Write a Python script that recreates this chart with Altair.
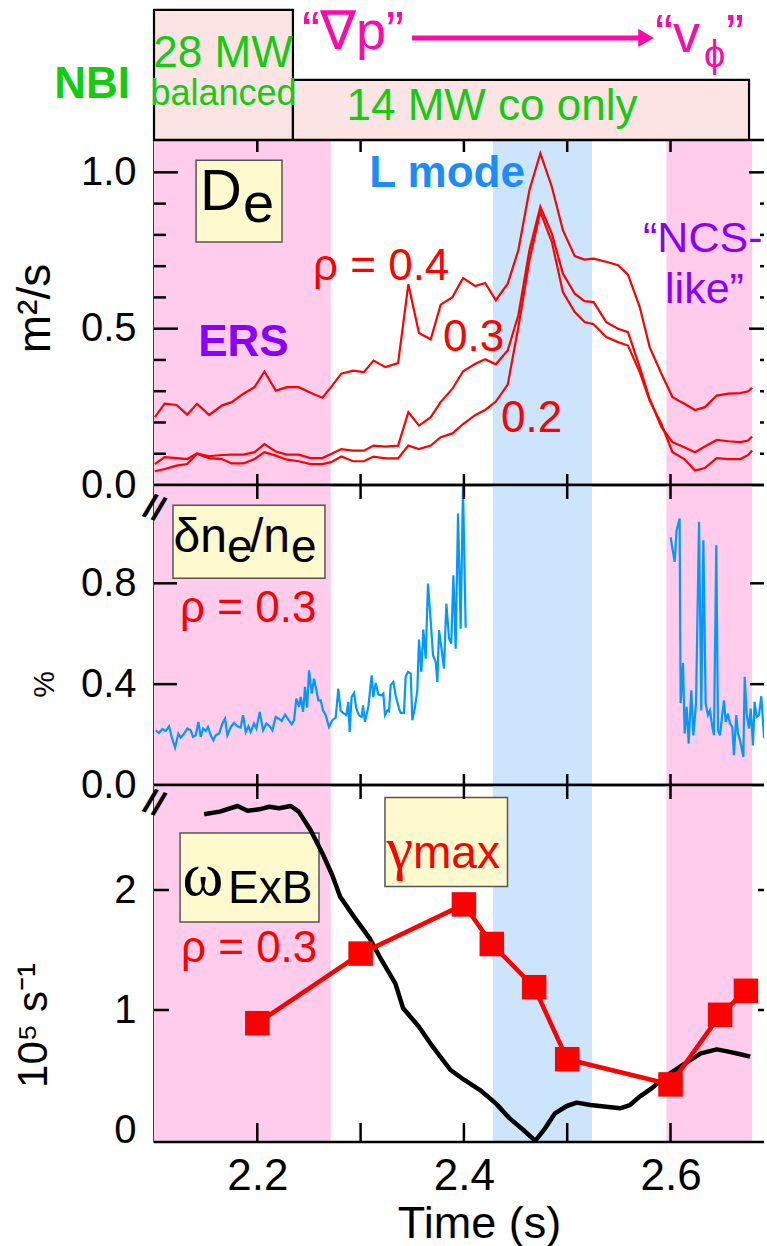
import altair as alt
import pandas as pd

FONT = "Liberation Sans"
W = 610
XMAX = 2.6905
H0, H1, H2, H3 = 140, 345, 300, 357

PINK = "#ffccec"
BLUEBAND = "#cce5fc"
NBIFILL = "#fde4e4"
GREEN = "#11cc11"
MAGENTA = "#ff0aa8"
RED = "#ff0000"
PURPLE = "#8800ff"
LBLUE = "#1a8cff"
LINEBLUE = "#0099ff"
YELLOW = "#fffacd"

# ---------------- data ----------------
band_start = [2.1, 2.428, 2.596]
band_end = [2.271, 2.524, 2.679]
band_kind = ["ERS / NCS", "L mode", "ERS / NCS"]

nbi_start = [2.1, 2.2345]
nbi_end = [2.2345, 2.676]
nbi_level = [0.93, 0.43]

t_de = [2.1008, 2.1103, 2.1218, 2.1321, 2.1416, 2.1534, 2.1656, 2.1752, 2.1866, 2.1973,
        2.2069, 2.2179, 2.2286, 2.2401, 2.2515, 2.2630, 2.2714, 2.2813, 2.2927, 2.3031,
        2.3126, 2.3240, 2.3363, 2.3462, 2.3565, 2.3679, 2.3775, 2.3889, 2.3992, 2.4111,
        2.4206, 2.4309, 2.4424, 2.4527, 2.4634, 2.4740, 2.4851, 2.4958, 2.5073, 2.5168,
        2.5256, 2.5378, 2.5492, 2.5588, 2.5702, 2.5798, 2.5912, 2.6019, 2.6134, 2.6237,
        2.6332, 2.6447, 2.6561, 2.6676, 2.6752, 2.6790]
de_04 = [0.217, 0.260, 0.256, 0.225, 0.260, 0.224, 0.254, 0.265, 0.292, 0.313,
         0.363, 0.302, 0.313, 0.313, 0.295, 0.279, 0.313, 0.356, 0.366, 0.361,
         0.398, 0.377, 0.390, 0.642, 0.486, 0.466, 0.577, 0.601, 0.662, 0.636,
         0.646, 0.591, 0.644, 0.751, 0.943, 1.061, 0.954, 0.815, 0.732, 0.721,
         0.724, 0.714, 0.703, 0.673, 0.569, 0.441, 0.356, 0.281, 0.260, 0.240,
         0.249, 0.286, 0.292, 0.294, 0.300, 0.311]
de_03 = [0.067, 0.089, 0.086, 0.083, 0.101, 0.092, 0.096, 0.097, 0.097, 0.105,
         0.131, 0.107, 0.097, 0.097, 0.086, 0.086, 0.099, 0.115, 0.110, 0.110,
         0.126, 0.123, 0.126, 0.233, 0.190, 0.217, 0.265, 0.308, 0.364, 0.388,
         0.402, 0.386, 0.430, 0.543, 0.751, 0.890, 0.804, 0.676, 0.612, 0.588,
         0.585, 0.521, 0.500, 0.489, 0.377, 0.275, 0.185, 0.137, 0.121, 0.105,
         0.123, 0.144, 0.140, 0.137, 0.142, 0.155]
de_02 = [0.044, 0.051, 0.062, 0.067, 0.099, 0.086, 0.083, 0.069, 0.069, 0.083,
         0.105, 0.094, 0.081, 0.076, 0.067, 0.067, 0.073, 0.091, 0.076, 0.076,
         0.091, 0.085, 0.085, 0.126, 0.115, 0.126, 0.153, 0.165, 0.195, 0.224,
         0.240, 0.267, 0.321, 0.505, 0.719, 0.874, 0.778, 0.617, 0.553, 0.521,
         0.514, 0.473, 0.457, 0.446, 0.361, 0.270, 0.195, 0.105, 0.083, 0.046,
         0.054, 0.086, 0.083, 0.083, 0.096, 0.110]

# delta n_e / n_e at rho = 0.3 (two recorded segments)
t_dn_a = [2.1017, 2.1049, 2.1081, 2.1113, 2.1146, 2.1171, 2.1204, 2.1236, 2.1259, 2.1291,
          2.1323, 2.1355, 2.1378, 2.1404, 2.1430, 2.1452, 2.1475, 2.1501, 2.1523, 2.1549,
          2.1575, 2.1597, 2.1630, 2.1662, 2.1688, 2.1710, 2.1743, 2.1775, 2.1807, 2.1839,
          2.1862, 2.1888, 2.1914, 2.1936, 2.1968, 2.1991, 2.2023, 2.2056, 2.2088, 2.2120,
          2.2146, 2.2178, 2.2210, 2.2236, 2.2269, 2.2301, 2.2333, 2.2356, 2.2378, 2.2404,
          2.2420, 2.2443, 2.2462, 2.2482, 2.2501, 2.2527, 2.2549, 2.2572, 2.2591, 2.2614,
          2.2636, 2.2662,
          2.2694, 2.2726, 2.2759, 2.2784, 2.2807, 2.2839, 2.2862, 2.2881, 2.2894, 2.2913,
          2.2936, 2.2959, 2.2984, 2.3010, 2.3023, 2.3042, 2.3075, 2.3107, 2.3123, 2.3146,
          2.3172, 2.3204, 2.3220, 2.3236, 2.3259, 2.3275, 2.3291, 2.3317, 2.3339, 2.3372,
          2.3388, 2.3420, 2.3436, 2.3459, 2.3485, 2.3501, 2.3527, 2.3549, 2.3565, 2.3588,
          2.3607, 2.3630, 2.3652, 2.3678, 2.3701, 2.3727, 2.3743, 2.3759, 2.3781, 2.3807,
          2.3830, 2.3856, 2.3878, 2.3898, 2.3920, 2.3943, 2.3969, 2.3991, 2.4017]
dn_a = [0.217, 0.206, 0.222, 0.214, 0.233, 0.191, 0.148, 0.204, 0.188, 0.204,
        0.224, 0.217, 0.191, 0.197, 0.250, 0.191, 0.224, 0.214, 0.230, 0.197,
        0.177, 0.197, 0.204, 0.244, 0.263, 0.197, 0.230, 0.246, 0.233, 0.228,
        0.277, 0.210, 0.233, 0.210, 0.244, 0.224, 0.290, 0.217, 0.244, 0.233,
        0.217, 0.270, 0.263, 0.254, 0.279, 0.259, 0.241, 0.257, 0.343, 0.310,
        0.349, 0.290, 0.389, 0.307, 0.455, 0.363, 0.422, 0.376, 0.336, 0.336,
        0.296, 0.277,
        0.230, 0.257, 0.267, 0.382, 0.294, 0.283, 0.277, 0.330, 0.210, 0.349,
        0.365, 0.303, 0.277, 0.270, 0.316, 0.250, 0.310, 0.435, 0.349, 0.405,
        0.359, 0.356, 0.363, 0.277, 0.296, 0.292, 0.396, 0.409, 0.356, 0.303,
        0.286, 0.286, 0.429, 0.449, 0.442, 0.257, 0.310, 0.376, 0.577, 0.449,
        0.617, 0.501, 0.799, 0.654, 0.515, 0.488, 0.409, 0.614, 0.548, 0.462,
        0.720, 0.581, 0.561, 0.832, 0.541, 1.077, 0.620, 1.183, 0.624]
t_dn_b = [2.6001, 2.6040, 2.6059, 2.6088, 2.6098, 2.6121, 2.6137, 2.6156, 2.6176, 2.6201,
          2.6221, 2.6247, 2.6276, 2.6298, 2.6318, 2.6340, 2.6363, 2.6382, 2.6405, 2.6421,
          2.6443, 2.6460, 2.6479, 2.6502, 2.6518, 2.6534, 2.6556, 2.6576, 2.6598, 2.6614,
          2.6637, 2.6653, 2.6673, 2.6705, 2.6718, 2.6737, 2.6760, 2.6776, 2.6798, 2.6814,
          2.6834, 2.6856, 2.6879, 2.6905, 2.6924, 2.6955, 2.6990]
dn_b = [0.982, 0.885, 1.011, 1.057, 0.325, 0.484, 0.204, 0.310, 0.164, 0.376,
        0.197, 0.323, 1.044, 0.296, 0.971, 0.323, 0.277, 0.296, 0.230, 0.197,
        0.951, 0.217, 0.197, 0.283, 0.336, 0.250, 0.283, 0.244, 0.230, 0.118,
        0.277, 0.204, 0.177, 0.111, 0.429, 0.283, 0.224, 0.303, 0.157, 0.330,
        0.270, 0.277, 0.352, 0.190, 0.184, 0.290, 0.215]

# omega_ExB at rho = 0.3 (1e5 / s)
t_w = [2.1485, 2.1637, 2.1809, 2.1905, 2.2019, 2.2115, 2.2210, 2.2324, 2.2401, 2.2515,
       2.2630, 2.2725, 2.2802, 2.2935, 2.3088, 2.3202, 2.3336, 2.3412, 2.3565, 2.3698,
       2.3870, 2.4004, 2.4156, 2.4309, 2.4443, 2.4576, 2.4691, 2.4786, 2.4882, 2.4996,
       2.5092, 2.5225, 2.5378, 2.5511, 2.5607, 2.5702, 2.5817, 2.5912, 2.5996, 2.6141,
       2.6294, 2.6447, 2.6561, 2.6676, 2.6771]
w_exb = [2.631, 2.653, 2.700, 2.661, 2.672, 2.694, 2.681, 2.700, 2.653, 2.500,
         2.306, 2.125, 1.944, 1.778, 1.597, 1.417, 1.222, 1.014, 0.861, 0.694,
         0.500, 0.417, 0.333, 0.222, 0.097, 0.000, -0.090, 0.014, 0.139, 0.200,
         0.228, 0.208, 0.194, 0.181, 0.208, 0.278, 0.347, 0.417, 0.472, 0.556,
         0.639, 0.672, 0.653, 0.631, 0.611]

# gamma_max
t_g = [2.2, 2.3, 2.4, 2.427, 2.468, 2.5, 2.6, 2.648, 2.673]
g_max = [0.89, 1.47, 1.88, 1.55, 1.19, 0.59, 0.38, 0.96, 1.16]

xtick_vals = [2.2, 2.3, 2.4, 2.5, 2.6]
p1_major = [0.5, 1.0]
p1_minor = [0.1, 0.2, 0.3, 0.4, 0.6, 0.7, 0.8, 0.9]
p2_major = [0.4, 0.8]
p3_major = [1, 2]

# ---------------- scales & axes ----------------
XS = alt.Scale(domain=[2.1, XMAX], nice=False, zero=False)
YS0 = alt.Scale(domain=[0, 1], nice=False, zero=False)
YS1 = alt.Scale(domain=[0, 1.1035], nice=False, zero=False)
YS2 = alt.Scale(domain=[0, 1.19], nice=False, zero=False)
YS3 = alt.Scale(domain=[-0.1, 2.875], nice=False, zero=False)


def yaxis(values, fmt, title, tx, ty, tsize):
    return alt.Axis(
        values=values, format=fmt, labelFont=FONT, labelFontSize=40, labelColor="black",
        labelPadding=18, ticks=False, tickSize=0, domain=True, domainColor="black",
        domainWidth=2.5, grid=False, labelFlush=False,
        title=title, titleFont=FONT, titleFontSize=tsize, titleFontWeight="normal",
        titleColor="black", titleX=tx, titleY=ty, titleAngle=270,
        titleAlign="center", titleBaseline="middle")


AX1 = yaxis([0, 0.5, 1.0], ".1f", "m\u00b2/s", -119, 168, 46)
AX2 = yaxis([0, 0.4, 0.8], ".1f", "%", -110, 199, 30)
AX3 = yaxis([0, 1, 2], "d", "10\u2075 s\u207b\u00b9", -121, 240, 42)
XAX = alt.Axis(
    values=[2.2, 2.4, 2.6], format=".1f", labelFont=FONT, labelFontSize=44,
    labelColor="black", labelPadding=12, ticks=False, tickSize=0, domain=False,
    grid=False, labelFlush=False, title="Time (s)", titleFont=FONT, titleFontSize=45,
    titleFontWeight="normal", titleColor="black", titleX=325, titleY=95,
    titleAlign="center", titleBaseline="alphabetic")


class Panel:
    """Helpers that give every layer of one panel identical scales and axes."""

    def __init__(self, ys, xa, ya, H):
        self.ys, self.xa, self.ya, self.H = ys, xa, ya, H

    def x(self):
        return alt.X("t:Q", scale=XS, axis=self.xa)

    def y(self):
        return alt.Y("v:Q", scale=self.ys, axis=self.ya)

    def note(self, t, v, s, size, color="black", align="left", weight="normal", font=FONT):
        df = pd.DataFrame({"t": [t], "v": [v], "s": [s]})
        return alt.Chart(df).mark_text(
            align=align, baseline="alphabetic", fontSize=size, color=color,
            fontWeight=weight, font=font
        ).encode(x=self.x(), y=self.y(), text="s:N")

    def box(self, t1, t2, v1, v2, fill=YELLOW, stroke="#555555", sw=1.5):
        df = pd.DataFrame({"t": [t1], "t2": [t2], "v": [v1], "v2": [v2]})
        return alt.Chart(df).mark_rect(fill=fill, stroke=stroke, strokeWidth=sw).encode(
            x=self.x(), x2="t2:Q", y=self.y(), y2="v2:Q")

    def bands(self):
        df = pd.DataFrame({"t": band_start, "t2": band_end, "kind": band_kind})
        return alt.Chart(df).mark_rect().encode(
            x=self.x(), x2="t2:Q",
            color=alt.Color("kind:N", scale=alt.Scale(domain=["ERS / NCS", "L mode"],
                                                      range=[PINK, BLUEBAND]), legend=None))

    def xticks(self, ltop, lbot):
        df = pd.DataFrame({"t": xtick_vals})
        top = alt.Chart(df).mark_rule(color="black", strokeWidth=2.5).encode(
            x=self.x(), y=alt.value(0), y2=alt.value(ltop))
        bot = alt.Chart(df).mark_rule(color="black", strokeWidth=2.5).encode(
            x=self.x(), y=alt.value(self.H - lbot), y2=alt.value(self.H))
        return [top, bot]

    def yticks(self, vals, lleft, lright):
        df = pd.DataFrame({"v": vals})
        left = alt.Chart(df).mark_rule(color="black", strokeWidth=2.5).encode(
            y=self.y(), x=alt.value(0), x2=alt.value(lleft))
        right = alt.Chart(df).mark_rule(color="black", strokeWidth=2.5).encode(
            y=self.y(), x=alt.value(W - lright), x2=alt.value(W))
        return [left, right]

    def frame(self):
        one = pd.DataFrame({"a": [0]})
        top = alt.Chart(one).mark_rule(color="black", strokeWidth=2.5).encode(
            x=alt.value(0), x2=alt.value(W), y=alt.value(0))
        bot = alt.Chart(one).mark_rule(color="black", strokeWidth=2.5).encode(
            x=alt.value(0), x2=alt.value(W), y=alt.value(self.H))
        return [top, bot]

    def breakmark(self, ypix):
        one = pd.DataFrame({"a": [0]})
        return alt.Chart(one).mark_text(
            text="//", fontSize=34, fontWeight="bold", font=FONT, color="black",
            angle=20, align="center", baseline="middle"
        ).encode(x=alt.value(0), y=alt.value(ypix))


# ---------------- top: NBI ----------------
P0 = Panel(YS0, None, None, H0)
nbi_df = pd.DataFrame({"t": nbi_start, "t2": nbi_end, "v": [0, 0], "v2": nbi_level})
nbi_boxes = alt.Chart(nbi_df).mark_rect(fill=NBIFILL, stroke="black", strokeWidth=2.2).encode(
    x=P0.x(), x2="t2:Q", y=P0.y(), y2="v2:Q")
arrow_df = pd.DataFrame({"t": [2.3498, 2.5695], "v": [0.729, 0.729]})
arrow_line = alt.Chart(arrow_df).mark_line(color=MAGENTA, strokeWidth=5).encode(
    x=P0.x(), y=P0.y())
arrow_head = alt.Chart(pd.DataFrame({"t": [2.5763], "v": [0.729]})).mark_point(
    shape="triangle-right", size=330, filled=True, color=MAGENTA, opacity=1).encode(
    x=P0.x(), y=P0.y())

top = alt.layer(
    nbi_boxes,
    P0.note(2.04, 0.30, "NBI", 44, GREEN, "center", "bold"),
    P0.note(2.1668, 0.521, "28 MW", 44, GREEN, "center"),
    P0.note(2.1673, 0.25, "balanced", 36, GREEN, "center"),
    P0.note(2.4272, 0.143, "14 MW co only", 44, GREEN, "center"),
    P0.note(2.2433, 0.65, "\u201c\u2207p\u201d", 54, MAGENTA),
    arrow_line, arrow_head,
    P0.note(2.585, 0.629, "\u201cv", 54, MAGENTA),
    P0.note(2.6324, 0.521, "\u03d5", 38, MAGENTA),
    P0.note(2.6537, 0.629, "\u201d", 54, MAGENTA),
).properties(width=W, height=H0)

# ---------------- panel 1: D_e ----------------
P1 = Panel(YS1, None, AX1, H1)
de_df = pd.DataFrame({
    "t": t_de * 3,
    "v": de_04 + de_03 + de_02,
    "rho": ["0.4"] * len(t_de) + ["0.3"] * len(t_de) + ["0.2"] * len(t_de),
})
de_lines = alt.Chart(de_df).mark_line(color=RED, strokeWidth=2.2, clip=True).encode(
    x=P1.x(), y=P1.y(), detail="rho:N")

p1 = alt.layer(
    P1.bands(),
    P1.box(2.1407, 2.2239, 0.777, 1.039),
    P1.note(2.1445, 0.879, "D", 58),
    P1.note(2.1862, 0.842, "e", 56),
    de_lines,
    P1.note(2.3837, 0.954, "L mode", 44, LBLUE, "center", "bold"),
    P1.note(2.1866, 0.414, "ERS", 44, PURPLE, "center", "bold"),
    P1.note(2.5734, 0.745, "\u201cNCS-", 43, PURPLE),
    P1.note(2.5947, 0.581, "like\u201d", 43, PURPLE),
    P1.note(2.2539, 0.655, "\u03c1 = 0.4", 44, RED),
    P1.note(2.3798, 0.43, "0.3", 44, RED),
    P1.note(2.436, 0.169, "0.2", 44, RED),
    *P1.xticks(12, 11),
    *P1.yticks(p1_major, 24, 15),
    *P1.yticks(p1_minor, 12, 4),
    *P1.frame(),
).properties(width=W, height=H1)

# ---------------- panel 2: delta n / n ----------------
P2 = Panel(YS2, None, AX2, H2)
dn_df = pd.DataFrame({
    "t": t_dn_a + t_dn_b,
    "v": dn_a + dn_b,
    "seg": ["a"] * len(t_dn_a) + ["b"] * len(t_dn_b),
})
dn_line = alt.Chart(dn_df).mark_line(color=LINEBLUE, strokeWidth=2.2, clip=True).encode(
    x=P2.x(), y=P2.y(), detail="seg:N")

p2 = alt.layer(
    P2.bands(),
    P2.box(2.1184, 2.2655, 0.82, 1.11),
    P2.note(2.1189, 0.925, "\u03b4n", 48),
    P2.note(2.1707, 0.885, "e", 46),
    P2.note(2.1929, 0.925, "/n", 48),
    P2.note(2.2326, 0.885, "e", 46),
    P2.note(2.1252, 0.647, "\u03c1 = 0.3", 44, RED),
    dn_line,
    *P2.xticks(14, 11),
    *P2.yticks(p2_major, 23, 14),
    *P2.frame(),
    P2.breakmark(24),
).properties(width=W, height=H2)

# ---------------- panel 3: omega_ExB and gamma_max ----------------
P3 = Panel(YS3, XAX, AX3, H3)
w_df = pd.DataFrame({"t": t_w, "v": w_exb})
w_line = alt.Chart(w_df).mark_line(color="black", strokeWidth=4.5, strokeJoin="round",
                                   clip=True).encode(x=P3.x(), y=P3.y())
g_df = pd.DataFrame({"t": t_g, "v": g_max})
g_line = alt.Chart(g_df).mark_line(color=RED, strokeWidth=4.5).encode(x=P3.x(), y=P3.y())
g_pts = alt.Chart(g_df).mark_square(color=RED, size=600, opacity=1).encode(
    x=P3.x(), y=P3.y())

p3 = alt.layer(
    P3.bands(),
    P3.box(2.1252, 2.2597, 1.733, 2.475),
    P3.note(2.1275, 1.958, "\u03c9", 62, font="Liberation Serif"),
    P3.note(2.1716, 1.89, "ExB", 46),
    P3.note(2.1261, 1.40, "\u03c1 = 0.3", 44, RED),
    P3.box(2.3236, 2.4422, 2.03, 2.77),
    P3.note(2.3250, 2.18, "\u03b3", 60, RED, font="Liberation Serif"),
    P3.note(2.3507, 2.18, "max", 46, RED),
    w_line, g_line, g_pts,
    *P3.xticks(14, 19),
    *P3.yticks(p3_major, 15, 6),
    *P3.frame(),
    P3.breakmark(19),
).properties(width=W, height=H3)

chart = alt.vconcat(top, p1, p2, p3, spacing=0, bounds="flush").properties(
    padding={"left": 12, "top": 0, "right": 0, "bottom": 0},
    background="white",
).configure_view(strokeWidth=0)

chart.save("out.html", embed_options={"renderer": "svg", "actions": False})
